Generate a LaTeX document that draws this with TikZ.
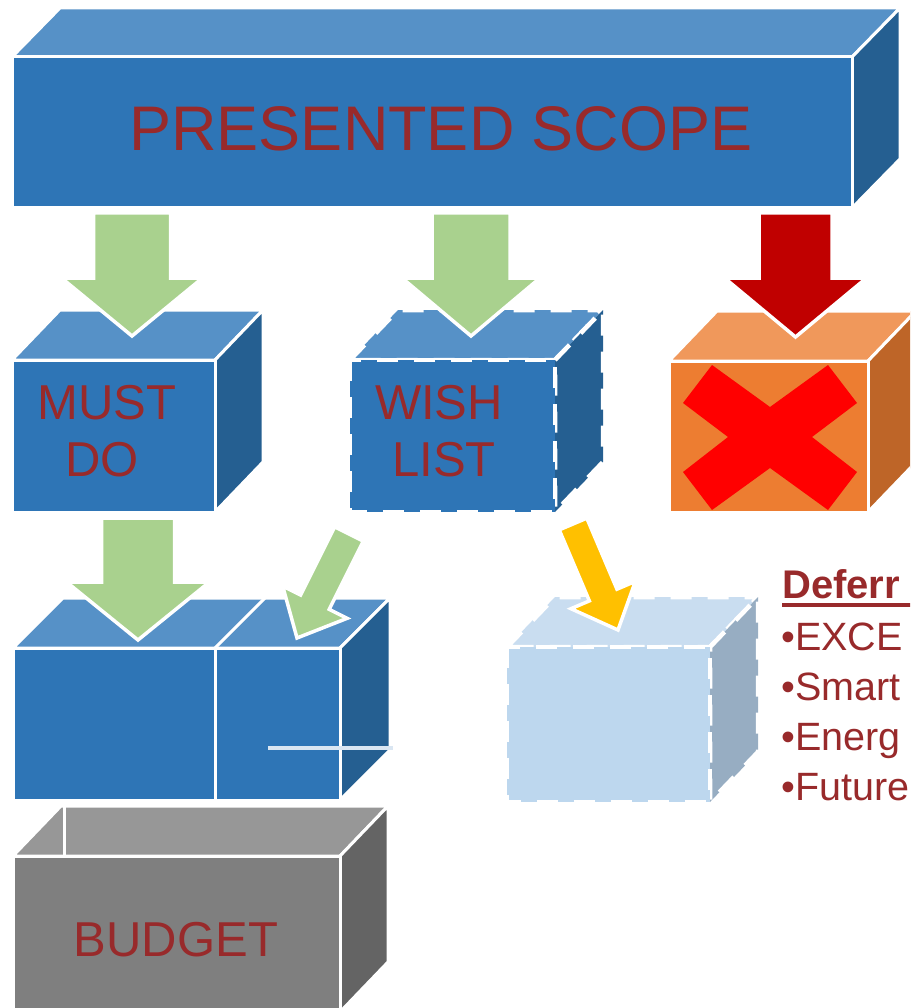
\documentclass[tikz,border=0pt]{standalone}
\usepackage{fontspec}
\setmainfont{Liberation Sans}
\usetikzlibrary{calc}
\definecolor{blueTop}{HTML}{5691C7}
\definecolor{blueFront}{HTML}{2E75B6}
\definecolor{blueSide}{HTML}{255F91}
\definecolor{orTop}{HTML}{F0985B}
\definecolor{orFront}{HTML}{ED7D31}
\definecolor{orSide}{HTML}{BE6528}
\definecolor{lbTop}{HTML}{C9DDF0}
\definecolor{lbFront}{HTML}{BDD7EE}
\definecolor{lbSide}{HTML}{97ADC2}
\definecolor{grTop}{HTML}{979797}
\definecolor{grFront}{HTML}{7F7F7F}
\definecolor{grSide}{HTML}{646464}
\definecolor{arrGreen}{HTML}{A9D18E}
\definecolor{arrRed}{HTML}{C00000}
\definecolor{arrYellow}{HTML}{FFC000}
\definecolor{txtred}{HTML}{982A2B}
\definecolor{xred}{HTML}{FF0000}
\definecolor{lightline}{HTML}{DAE6F2}
\tikzset{
  boxedge/.style={draw=white, line width=3pt, line join=miter},
  dashbox/.style={boxedge/.style={draw=white, line width=4.5pt, dash pattern=on 21pt off 16pt}},
  arrowedge/.style={draw=white, line width=3.5pt, line join=miter},
  lbl/.style={text=txtred, inner sep=0pt, font=\fontsize{49}{57}\selectfont},
  sidetxt/.style={text=txtred, inner sep=0pt, anchor=base west, font=\fontsize{39.5}{46}\selectfont},
}
% #1 x1, #2 y1 (top of front), #3 x2, #4 y2 (bottom), #5 dx, #6 dy, #7 top, #8 front, #9 side
\newcommand\drawcuboid[9]{%
  \path[boxedge, fill=#7] (#1,#2) -- ++(#5,-#6) -- ++({#3-#1},0) -- (#3,#2) -- cycle;
  \path[boxedge, fill=#9] (#3,#2) -- ++(#5,-#6) -- ++(0,{#4-#2}) -- (#3,#4) -- cycle;
  \path[boxedge, fill=#8] (#1,#2) rectangle (#3,#4);
}
% #1 start, #2 tip, #3 shaft half width, #4 head half width, #5 head length, #6 colour
\newcommand\blockarrow[6]{%
  \coordinate (ba-s) at (#1);
  \coordinate (ba-t) at (#2);
  \coordinate (ba-h) at ($(ba-t)!#5!(ba-s)$);
  \path[arrowedge, fill=#6]
    ($(ba-s)!#3!90:(ba-t)$) -- ($(ba-h)!#3!90:(ba-t)$) -- ($(ba-h)!#4!90:(ba-t)$)
    -- (ba-t) -- ($(ba-h)!#4!-90:(ba-t)$) -- ($(ba-h)!#3!-90:(ba-t)$)
    -- ($(ba-s)!#3!-90:(ba-t)$) -- cycle;
}
\begin{document}
\begin{tikzpicture}[x=1pt, y=-1pt]
\useasboundingbox (0,0) rectangle (910,1008);
\clip (0,0) rectangle (910,1008);

% presented scope
\drawcuboid{12}{57}{852}{208}{48}{49}{blueTop}{blueFront}{blueSide}
\node[lbl, font=\fontsize{63}{70}\selectfont] (scope) at (441,129) {PRESENTED SCOPE};

% must do
\drawcuboid{12}{360}{215}{512}{48}{50}{blueTop}{blueFront}{blueSide}
\node[lbl] (must1) at (107,403) {MUST};
\node[lbl] (must2) at (102,460) {DO};

% wish list (dashed)
\begin{scope}[dashbox]
\drawcuboid{350}{360}{555}{512}{48}{50}{blueTop}{blueFront}{blueSide}
\end{scope}
\node[lbl] (wish1) at (439,403) {WISH};
\node[lbl] (wish2) at (444,460) {LIST};

% rejected (orange)
\drawcuboid{669}{361}{868}{512}{48}{50}{orTop}{orFront}{orSide}
\fill[xred] (683,403) -- (712,365) -- (770,407) -- (828,365) -- (857,403) -- (812,437)
  -- (857,472) -- (828,510) -- (770,468) -- (712,510) -- (683,472) -- (728,437) -- cycle;

% budget box
\drawcuboid{13}{856}{340}{1012}{48}{50}{grTop}{grFront}{grSide}
\draw[boxedge] (64,806) -- (64,856);
\node[lbl] (budget) at (176,940) {BUDGET};

% funded composite box
\drawcuboid{13}{648}{340}{800}{50}{50}{blueTop}{blueFront}{blueSide}
\draw[boxedge] (215,648) -- (215,800);
\draw[boxedge] (215,648) -- ++(50,-50);
\draw[lightline, line width=4pt] (268,748) -- (393,748);

% deferred box (dashed)
\begin{scope}[dashbox]
\drawcuboid{507}{647}{710}{802}{48}{50}{lbTop}{lbFront}{lbSide}
\end{scope}

% arrows
\blockarrow{132,213}{132,336}{38.5pt}{70.5pt}{58pt}{arrGreen}
\blockarrow{471,213}{471,336}{39pt}{69pt}{58pt}{arrGreen}
\blockarrow{795.5,213}{795.5,337}{36.5pt}{71pt}{59pt}{arrRed}
\blockarrow{138,518}{138,640}{36.5pt}{71.5pt}{58pt}{arrGreen}
\blockarrow{349,534}{297,638}{16pt}{36pt}{40pt}{arrGreen}
\blockarrow{573,524}{618,630}{15pt}{35pt}{38pt}{arrYellow}

% deferred list
\node[sidetxt, font=\bfseries\fontsize{40}{46}\selectfont] (def) at (782,598) {Deferr};
\draw[txtred, line width=4pt] (def.base west) ++(0,7) -- ++(130,0);
\node[sidetxt] (b1) at (781,650) {•EXCE};
\node[sidetxt] (b2) at (781,700) {•Smart};
\node[sidetxt] (b3) at (781,750) {•Energ};
\node[sidetxt] (b4) at (781,800) {•Future};
\end{tikzpicture}
\end{document}
